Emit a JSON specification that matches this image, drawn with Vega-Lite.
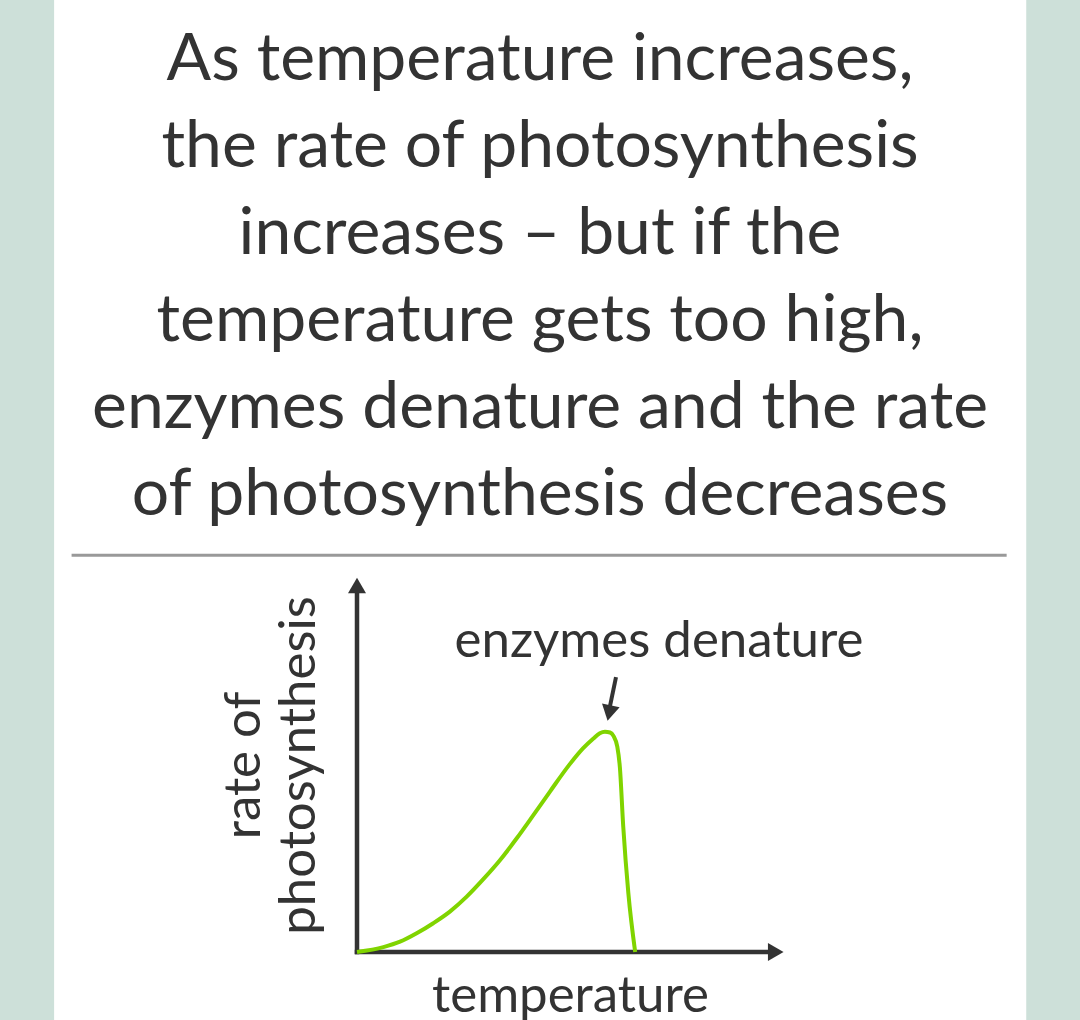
{
  "$schema": "https://vega.github.io/schema/vega-lite/v6.json",
  "width": 426,
  "height": 374,
  "autosize": "none",
  "padding": {"left": 357, "top": 578, "right": 297, "bottom": 68},
  "background": "#cde0d9",
  "view": {"stroke": null},
  "title": {
    "text": [
      "As temperature increases,",
      "the rate of photosynthesis",
      "increases – but if the",
      "temperature gets too high,",
      "enzymes denature and the rate",
      "of photosynthesis decreases"
    ],
    "font": "Lato",
    "fontSize": 66,
    "fontWeight": "normal",
    "color": "#333333",
    "lineHeight": 87,
    "anchor": "middle",
    "frame": "group",
    "dx": -30,
    "offset": -549,
    "zindex": 1
  },
  "datasets": {
    "curve": [
      {"temperature": 0, "rate": 0},
      {"temperature": 6.2, "rate": 1.3},
      {"temperature": 10.1, "rate": 2.75},
      {"temperature": 14.0, "rate": 5.0},
      {"temperature": 17.9, "rate": 7.7},
      {"temperature": 21.8, "rate": 10.8},
      {"temperature": 25.75, "rate": 14.8},
      {"temperature": 29.6, "rate": 19.4},
      {"temperature": 33.6, "rate": 24.6},
      {"temperature": 37.5, "rate": 30.4},
      {"temperature": 41.4, "rate": 36.6},
      {"temperature": 45.3, "rate": 42.9},
      {"temperature": 50.0, "rate": 50.3},
      {"temperature": 53.1, "rate": 54.5},
      {"temperature": 55.5, "rate": 57.1},
      {"temperature": 57.0, "rate": 58.5},
      {"temperature": 58.2, "rate": 58.9},
      {"temperature": 59.4, "rate": 58.7},
      {"temperature": 60.2, "rate": 57.8},
      {"temperature": 61.1, "rate": 54.9},
      {"temperature": 61.7, "rate": 49.5},
      {"temperature": 62.5, "rate": 33.5},
      {"temperature": 63.7, "rate": 15.7},
      {"temperature": 65.3, "rate": 0}
    ],
    "frame": [
      {"x": 0, "y": 0, "x2": 97, "y2": 0},
      {"x": 0, "y": 0, "x2": 0, "y2": 97}
    ],
    "heads": [
      {"kind": "x", "x": 98.3, "y": 0},
      {"kind": "y", "x": 0, "y": 98},
      {"kind": "pointer", "x": 59.2, "y": 63.9}
    ],
    "pointer": [
      {"x": 60.8, "y": 73.5, "x2": 59.4, "y2": 65.8}
    ],
    "notes": [
      {"x": 70.9, "y": 79, "label": "enzymes denature"}
    ]
  },
  "resolve": {"axis": {"x": "independent", "y": "independent"}},
  "layer": [
    {
      "data": {"values": [{}]},
      "mark": {"type": "rect", "fill": "#ffffff"},
      "encoding": {
        "x": {"datum": -71.1, "type": "quantitative", "axis": null},
        "x2": {"datum": 157.1},
        "y": {"datum": -20, "type": "quantitative", "axis": null},
        "y2": {"datum": 260}
      }
    },
    {
      "data": {"values": [{}]},
      "mark": {"type": "rule", "color": "#999999", "strokeWidth": 3},
      "encoding": {
        "x": {"datum": -67, "type": "quantitative", "axis": null},
        "x2": {"datum": 152.5},
        "y": {"datum": 106.1, "type": "quantitative", "axis": null}
      }
    },
    {
      "data": {"name": "frame"},
      "mark": {"type": "rule", "color": "#333333", "strokeWidth": 4.5, "strokeCap": "square"},
      "encoding": {
        "x": {"field": "x", "type": "quantitative", "axis": null},
        "x2": {"field": "x2"},
        "y": {"field": "y", "type": "quantitative", "axis": null},
        "y2": {"field": "y2"}
      }
    },
    {
      "data": {"name": "curve"},
      "mark": {"type": "line", "color": "#80d400", "strokeWidth": 4, "interpolate": "monotone"},
      "encoding": {
        "x": {
          "field": "temperature",
          "type": "quantitative",
          "scale": {"domain": [0, 100], "nice": false, "zero": false},
          "axis": {"title": "temperature", "orient": "bottom", "titlePadding": 19, "zindex": 1}
        },
        "y": {
          "field": "rate",
          "type": "quantitative",
          "scale": {"domain": [0, 100], "nice": false, "zero": false},
          "axis": {"title": ["rate of", "photosynthesis"], "orient": "left", "titlePadding": 32, "titleLineHeight": 55, "zindex": 1}
        }
      }
    },
    {
      "data": {"name": "pointer"},
      "mark": {"type": "rule", "color": "#333333", "strokeWidth": 4},
      "encoding": {
        "x": {"field": "x", "type": "quantitative", "axis": null},
        "x2": {"field": "x2"},
        "y": {"field": "y", "type": "quantitative", "axis": null},
        "y2": {"field": "y2"}
      }
    },
    {
      "data": {"name": "heads"},
      "transform": [{"filter": "datum.kind === 'x'"}],
      "mark": {"type": "point", "shape": "triangle-right", "size": 324, "filled": true, "color": "#333333", "opacity": 1},
      "encoding": {
        "x": {"field": "x", "type": "quantitative", "axis": null},
        "y": {"field": "y", "type": "quantitative", "axis": null}
      }
    },
    {
      "data": {"name": "heads"},
      "transform": [{"filter": "datum.kind === 'y'"}],
      "mark": {"type": "point", "shape": "triangle-up", "size": 324, "filled": true, "color": "#333333", "opacity": 1},
      "encoding": {
        "x": {"field": "x", "type": "quantitative", "axis": null},
        "y": {"field": "y", "type": "quantitative", "axis": null}
      }
    },
    {
      "data": {"name": "heads"},
      "transform": [{"filter": "datum.kind === 'pointer'"}],
      "mark": {"type": "point", "shape": "triangle-down", "angle": 12, "size": 324, "filled": true, "color": "#333333", "opacity": 1},
      "encoding": {
        "x": {"field": "x", "type": "quantitative", "axis": null},
        "y": {"field": "y", "type": "quantitative", "axis": null}
      }
    },
    {
      "data": {"name": "notes"},
      "mark": {"type": "text", "font": "Lato", "fontSize": 51, "color": "#333333", "align": "center", "baseline": "alphabetic"},
      "encoding": {
        "x": {"field": "x", "type": "quantitative", "axis": null},
        "y": {"field": "y", "type": "quantitative", "axis": null},
        "text": {"field": "label"}
      }
    }
  ],
  "config": {
    "axis": {
      "domain": true,
      "domainColor": "transparent",
      "ticks": false,
      "labels": false,
      "grid": false,
      "titleFont": "Lato",
      "titleFontSize": 51,
      "titleFontWeight": "normal",
      "titleColor": "#333333"
    }
  }
}
